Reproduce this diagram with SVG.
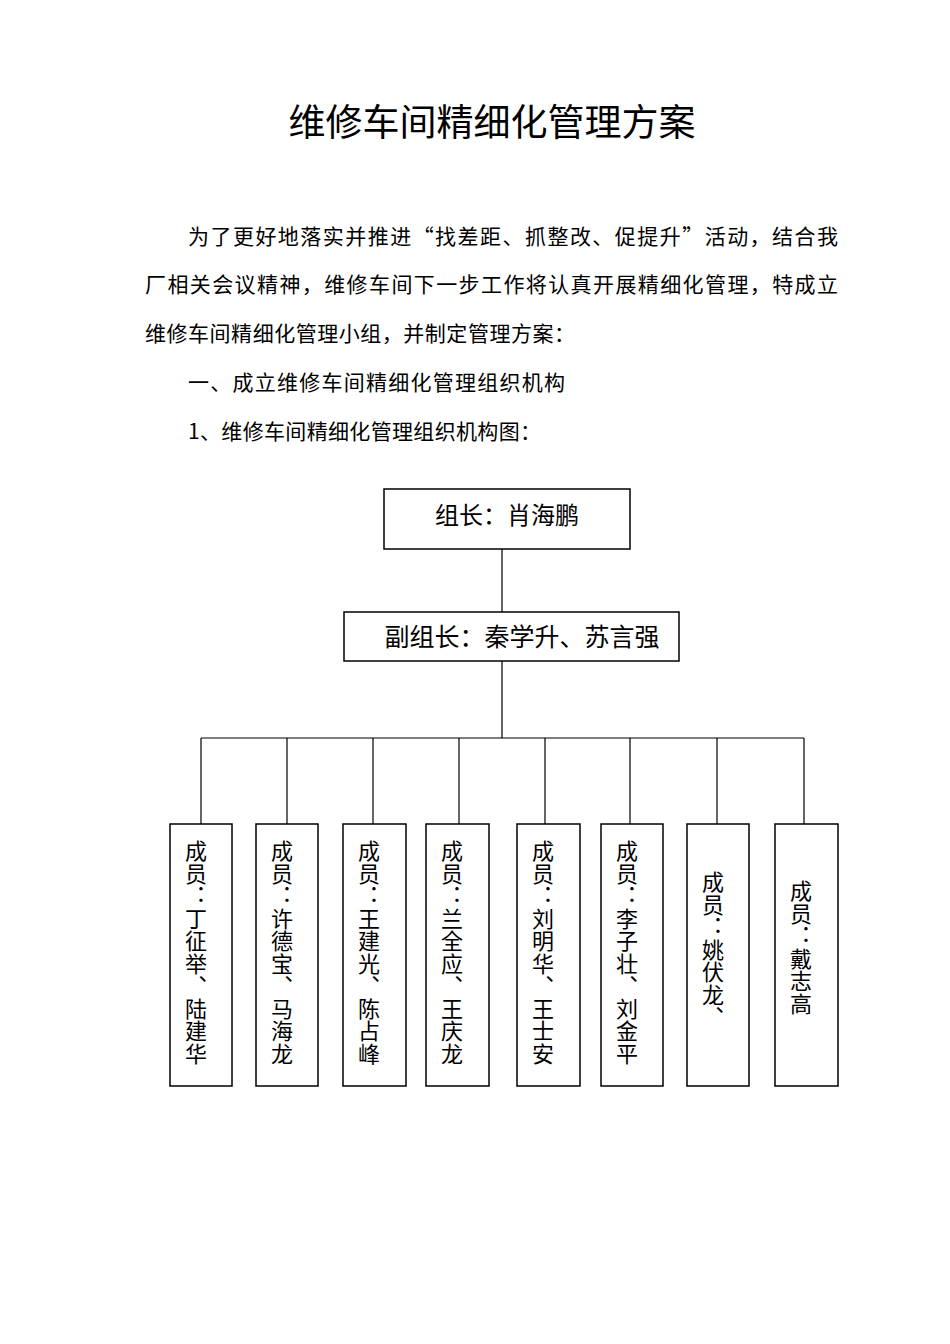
<svg xmlns="http://www.w3.org/2000/svg" width="950" height="1344" viewBox="0 0 950 1344">
<style>
text{font-family:"Noto Sans CJK SC","Noto Sans CJK JP",sans-serif;fill:#000}
.p{font-size:21px}
.box{fill:#fff;stroke:#000;stroke-width:1.5}
.ln{stroke:#000;stroke-width:1.2;fill:none}
.v{font-size:22px;writing-mode:vertical-rl;letter-spacing:0.5px}
</style>
<rect width="950" height="1344" fill="#fff"/>
<text x="492" y="136" font-size="37" text-anchor="middle">维修车间精细化管理方案</text>
<text class="p" x="188" y="244" textLength="650" lengthAdjust="spacing">为了更好地落实并推进“找差距、抓整改、促提升”活动，结合我</text>
<text class="p" x="145" y="292" textLength="693" lengthAdjust="spacing">厂相关会议精神，维修车间下一步工作将认真开展精细化管理，特成立</text>
<text class="p" x="145" y="341" textLength="430" lengthAdjust="spacing">维修车间精细化管理小组，并制定管理方案：</text>
<text class="p" x="188" y="390" textLength="377" lengthAdjust="spacing">一、成立维修车间精细化管理组织机构</text>
<text class="p" x="188" y="439" textLength="353" lengthAdjust="spacing">1、维修车间精细化管理组织机构图：</text>
<g id="connectors">
<path class="ln" d="M502 549V612M502 661V738M201 738H804M201 738V824M287 738V824M373 738V824M459 738V824M545 738V824M630 738V824M717 738V824M804 738V824"/>
</g>
<g id="leader"><rect class="box" x="384" y="489" width="246" height="60"/><text x="507" y="524" font-size="24" text-anchor="middle">组长：肖海鹏</text></g>
<g id="deputy"><rect class="box" x="344" y="612" width="335" height="49"/><text x="522" y="646" font-size="25" text-anchor="middle">副组长：秦学升、苏言强</text></g>
<g id="m1"><rect class="box" x="170" y="824" width="62" height="262"/><text class="v" x="196" y="840">成员：丁征举、陆建华</text></g>
<g id="m2"><rect class="box" x="256" y="824" width="62" height="262"/><text class="v" x="282" y="840">成员：许德宝、马海龙</text></g>
<g id="m3"><rect class="box" x="343" y="824" width="63" height="262"/><text class="v" x="369" y="840">成员：王建光、陈占峰</text></g>
<g id="m4"><rect class="box" x="426" y="824" width="63" height="262"/><text class="v" x="452" y="840">成员：兰全应、王庆龙</text></g>
<g id="m5"><rect class="box" x="517" y="824" width="63" height="262"/><text class="v" x="543" y="840">成员：刘明华、王士安</text></g>
<g id="m6"><rect class="box" x="601" y="824" width="62" height="262"/><text class="v" x="627" y="840">成员：李子壮、刘金平</text></g>
<g id="m7"><rect class="box" x="687" y="824" width="62" height="262"/><text class="v" x="713" y="871">成员：姚伏龙、</text></g>
<g id="m8"><rect class="box" x="775" y="824" width="63" height="262"/><text class="v" x="801" y="880">成员：戴志高</text></g>
</svg>
